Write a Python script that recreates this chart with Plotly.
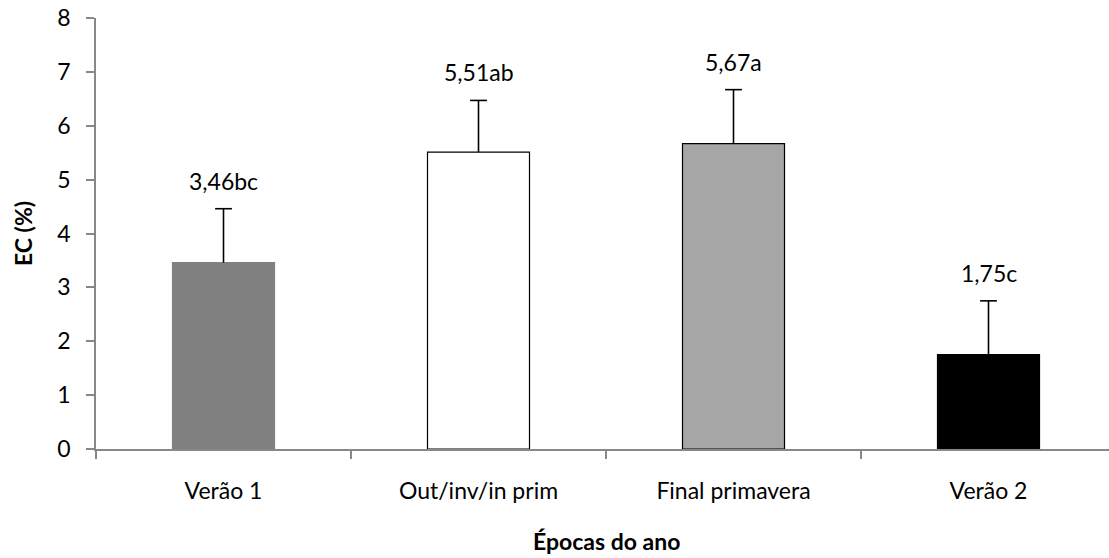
import plotly.graph_objects as go

categories = ["Verão 1", "Out/inv/in prim", "Final primavera", "Verão 2"]
values = [3.46, 5.51, 5.67, 1.75]
errors = [1.0, 0.96, 1.0, 1.0]
labels = ["3,46bc", "5,51ab", "5,67a", "1,75c"]
y_ticks = [0, 1, 2, 3, 4, 5, 6, 7, 8]

fill_colors = ["#808080", "#FFFFFF", "#A6A6A6", "#000000"]
line_colors = ["#808080", "#000000", "#000000", "#000000"]

FONT = "Lato"
FS = 23

fig = go.Figure()
fig.add_trace(go.Bar(
    x=categories, y=values, width=0.4,
    marker=dict(color=fill_colors, line=dict(color=line_colors, width=1.2)),
    showlegend=False, hoverinfo="skip",
))
# upper error bars only (stem + top cap)
tops = [v + e for v, e in zip(values, errors)]
fig.add_trace(go.Scatter(
    x=categories, y=tops, mode="markers",
    marker=dict(symbol="line-ew", size=12, line=dict(color="#000000", width=1.6)),
    error_y=dict(type="data", array=[0] * len(errors), arrayminus=errors,
                 symmetric=False, color="#000000", thickness=1.6, width=0),
    showlegend=False, hoverinfo="skip",
))

for c, t, lab in zip(categories, tops, labels):
    fig.add_annotation(x=c, y=t, text=lab, showarrow=False, yanchor="middle",
                       yshift=28, font=dict(family=FONT, size=FS, color="#000000"))

PLOT_H = 431
fig.add_annotation(x=1.5, xref="x", y=-91.5 / PLOT_H, yref="paper", yanchor="middle",
                   text="<b>Épocas do ano</b>", showarrow=False,
                   font=dict(family=FONT, size=FS, color="#000000"))

fig.update_layout(
    width=1109, height=558,
    margin=dict(l=96, r=0, t=18, b=558 - 18 - PLOT_H, autoexpand=False),
    plot_bgcolor="#FFFFFF", paper_bgcolor="#FFFFFF",
    font=dict(family=FONT, size=FS, color="#000000"),
    bargap=0.6,
)

fig.update_xaxes(
    type="category", range=[-0.5, 3.5 - 7 / 255], automargin=False,
    showline=True, linecolor="#888888", linewidth=1.6,
    ticks="outside", tickson="boundaries", ticklen=8, tickcolor="#888888", tickwidth=1.6,
    ticklabelstandoff=21, showgrid=False, zeroline=False,
    tickfont=dict(family=FONT, size=FS, color="#000000"),
)
fig.update_yaxes(
    range=[0, 8], tickvals=y_ticks, ticktext=[str(v) for v in y_ticks], automargin=False,
    showline=True, linecolor="#888888", linewidth=1.6,
    ticks="outside", ticklen=8, tickcolor="#888888", tickwidth=1.6,
    ticklabelstandoff=11, ticklabeloverflow="allow",
    showgrid=False, zeroline=False,
    tickfont=dict(family=FONT, size=FS, color="#000000"),
    title=dict(text="<b>EC (%)</b>", font=dict(family=FONT, size=FS, color="#000000"), standoff=18),
)

fig.write_html("out.html", config={"displayModeBar": False},
               post_script="document.body.style.margin='0px';")
